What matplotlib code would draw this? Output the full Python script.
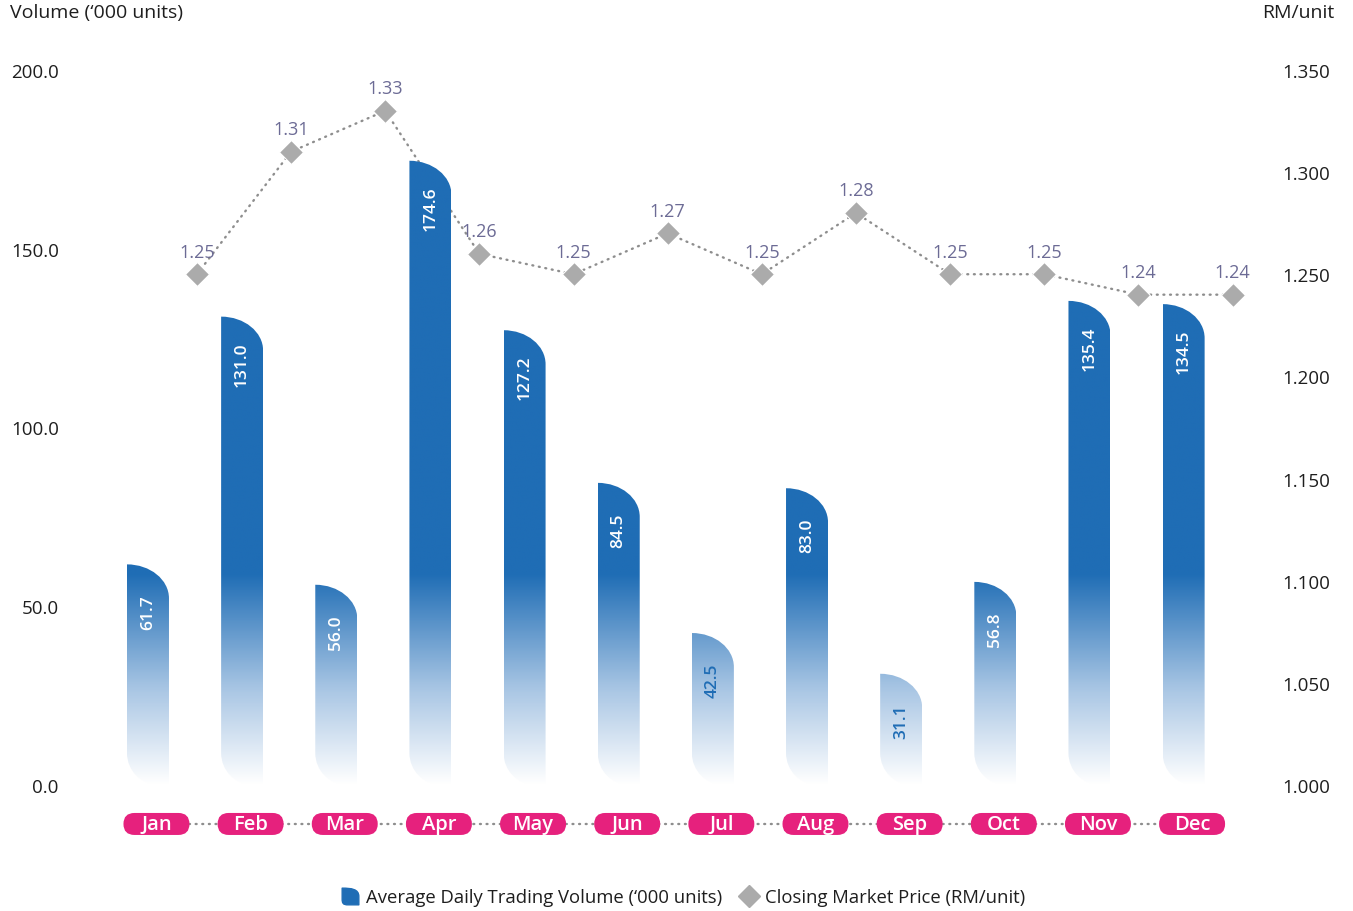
import numpy as np
import matplotlib
matplotlib.use("Agg")
import matplotlib.pyplot as plt
from matplotlib.path import Path
from matplotlib.patches import PathPatch, FancyBboxPatch
from matplotlib.lines import Line2D
from matplotlib.colors import LinearSegmentedColormap
import matplotlib.transforms as mtransforms

# ---- data ----
months = ["Jan", "Feb", "Mar", "Apr", "May", "Jun",
          "Jul", "Aug", "Sep", "Oct", "Nov", "Dec"]
volume = [61.7, 131.0, 56.0, 174.6, 127.2, 84.5, 42.5, 83.0, 31.1, 56.8, 135.4, 134.5]
price = [1.25, 1.31, 1.33, 1.26, 1.25, 1.27, 1.25, 1.28, 1.25, 1.25, 1.24, 1.24]
vol_ticks = [0, 50, 100, 150, 200]
price_ticks = [1.000, 1.050, 1.100, 1.150, 1.200, 1.250, 1.300, 1.350]

# ---- style ----
BLUE = "#1F6DB5"
PINK = "#E6217D"
GREY = "#ABABAB"
DOT = "#8E8E8E"
LABEL = "#6C6B95"
TEXT = "#1E1E1E"
FONT = ["Open Sans", "DejaVu Sans"]
plt.rcParams["font.family"] = FONT

W, H, DPI = 1353, 912, 100
fig = plt.figure(figsize=(W / DPI, H / DPI), dpi=DPI)
ax = fig.add_axes([0.0711, 0.1382, 0.8559, 0.7840])
ax2 = ax.twinx()

x = np.arange(len(months))
ax.set_xlim(-0.55, 11.75)
ax.set_ylim(0, 200)
ax2.set_ylim(1.0, 1.35)

for a in (ax, ax2):
    for s in a.spines.values():
        s.set_visible(False)
    a.tick_params(length=0, labelsize=13.5, labelcolor=TEXT)
ax.set_xticks([])
ax.set_yticks(vol_ticks)
ax.set_yticklabels([f"{v:.1f}" for v in vol_ticks])
ax.tick_params(axis="y", pad=27)
ax2.set_yticks(price_ticks)
ax2.set_yticklabels([f"{v:.3f}" for v in price_ticks])
ax2.tick_params(axis="y", pad=20.5)

# draw bars above the price line
ax.set_zorder(ax2.get_zorder() + 1)
ax.patch.set_visible(False)

# pixel scale of the data axes (for rounded corners)
p0 = ax.transData.transform((0, 0))
p1 = ax.transData.transform((1, 1))
sx, sy = p1[0] - p0[0], p1[1] - p0[1]

bar_w = 42 / sx
k = 0.5523


def bar_path(xc, h):
    x0, x1 = xc - bar_w / 2, xc + bar_w / 2
    rx_t, ry_t = bar_w, 34 / sy
    rx_b, ry_b = bar_w * 0.75, 32 / sy
    cx, cy = x1 - rx_t, h - ry_t
    verts = [
        (x0, ry_b),
        (x0, h),
        (cx + k * rx_t, h), (x1, cy + k * ry_t), (x1, cy),
        (x1, 0),
        (x0 + rx_b, 0),
        (x0 + rx_b - k * rx_b, 0), (x0, ry_b - k * ry_b), (x0, ry_b),
        (x0, ry_b),
    ]
    codes = [Path.MOVETO, Path.LINETO,
             Path.CURVE4, Path.CURVE4, Path.CURVE4,
             Path.LINETO, Path.LINETO,
             Path.CURVE4, Path.CURVE4, Path.CURVE4,
             Path.CLOSEPOLY]
    return Path(verts, codes)


cmap = LinearSegmentedColormap.from_list(
    "fade", [(0.0, "#FFFFFF"), (0.45, "#A9C6E4"), (1.0, BLUE)], N=256)
grad = np.linspace(0, 200, 400)[:, None]

for xi, v in zip(x, volume):
    patch = PathPatch(bar_path(xi, v), fc="none", ec="none", lw=0, transform=ax.transData)
    ax.add_patch(patch)
    im = ax.imshow(grad, extent=(xi - bar_w / 2, xi + bar_w / 2, 0, 200), origin="lower",
                   cmap=cmap, vmin=0, vmax=59, aspect="auto", interpolation="bilinear", zorder=2)
    im.set_clip_path(patch)
    ax.annotate(f"{v:.1f}", (xi, v), xytext=(0, -47 * 72 / DPI), textcoords="offset points",
                rotation=90, ha="center", va="center", fontsize=12.5, fontweight="semibold",
                color="white" if v >= 50 else BLUE, zorder=3)

ax.set_xlim(-0.55, 11.75)
ax.set_ylim(0, 200)

# closing price line
px = x + 0.52
ax2.plot(px, price, color=DOT, lw=1.7, ls=(0, (0.4, 2.4)), dash_capstyle="round", zorder=1)
ax2.plot(px, price, ls="none", marker="D", ms=12, color=GREY, mec="white", mew=0.8, zorder=2)
for xp, p in zip(px, price):
    ax2.annotate(f"{p:.2f}", (xp, p), xytext=(0, 22.5 * 72 / DPI), textcoords="offset points",
                 ha="center", va="center", fontsize=13, color=LABEL)
ax2.set_xlim(-0.55, 11.75)

# month pills along the bottom
blend = mtransforms.blended_transform_factory(ax.transData, ax.transAxes)
py = -39 / (0.7840 * H)
pill_x = x + 0.09
ax.plot([pill_x[0], pill_x[-1]], [py, py], transform=blend, color=DOT, lw=1.7,
        ls=(0, (0.4, 2.4)), dash_capstyle="round", clip_on=False, zorder=1)
pw, ph = 0.66, 0.22
for xi, m in zip(pill_x, months):
    tr = fig.dpi_scale_trans + mtransforms.ScaledTranslation(xi, py, blend)
    pill = FancyBboxPatch((-pw / 2, -ph / 2), pw, ph,
                          boxstyle=f"round,pad=0,rounding_size={ph / 2}",
                          fc=PINK, ec="none", transform=tr, clip_on=False, zorder=4)
    ax.add_artist(pill)
    ax.text(xi, py, m, transform=blend, ha="center", va="center", fontsize=14.5,
            fontweight="semibold", color="white", clip_on=False, zorder=5)

# axis titles
fig.text(10 / W, 1 - 13 / H, "Volume (\u2018000 units)", ha="left", va="center",
         fontsize=14, color=TEXT)
fig.text(1334 / W, 1 - 13 / H, "RM/unit", ha="right", va="center", fontsize=14, color=TEXT)

# legend
leaf = Path([(-1, -0.3), (-1, 1), (0.1, 1), (1, 0.9), (1, 0), (1, -1), (-0.3, -1),
             (-0.9, -1), (-1, -0.8), (-1, -0.3), (-1, -0.3)],
            [Path.MOVETO, Path.LINETO, Path.CURVE4, Path.CURVE4, Path.CURVE4, Path.LINETO,
             Path.LINETO, Path.CURVE4, Path.CURVE4, Path.CURVE4, Path.CLOSEPOLY])
handles = [
    Line2D([], [], ls="none", marker=leaf, ms=12, color=BLUE, mec=BLUE),
    Line2D([], [], ls="none", marker="D", ms=11.5, color=GREY, mec=GREY),
]
fig.legend(handles, ["Average Daily Trading Volume (\u2018000 units)",
                     "Closing Market Price (RM/unit)"],
           loc="center", bbox_to_anchor=(0.505, 1 - 898 / H), ncol=2, frameon=False,
           fontsize=13.3, handlelength=0.9, handletextpad=0.4, columnspacing=1.0,
           labelcolor=TEXT)

fig.savefig("out.png", dpi=DPI)
